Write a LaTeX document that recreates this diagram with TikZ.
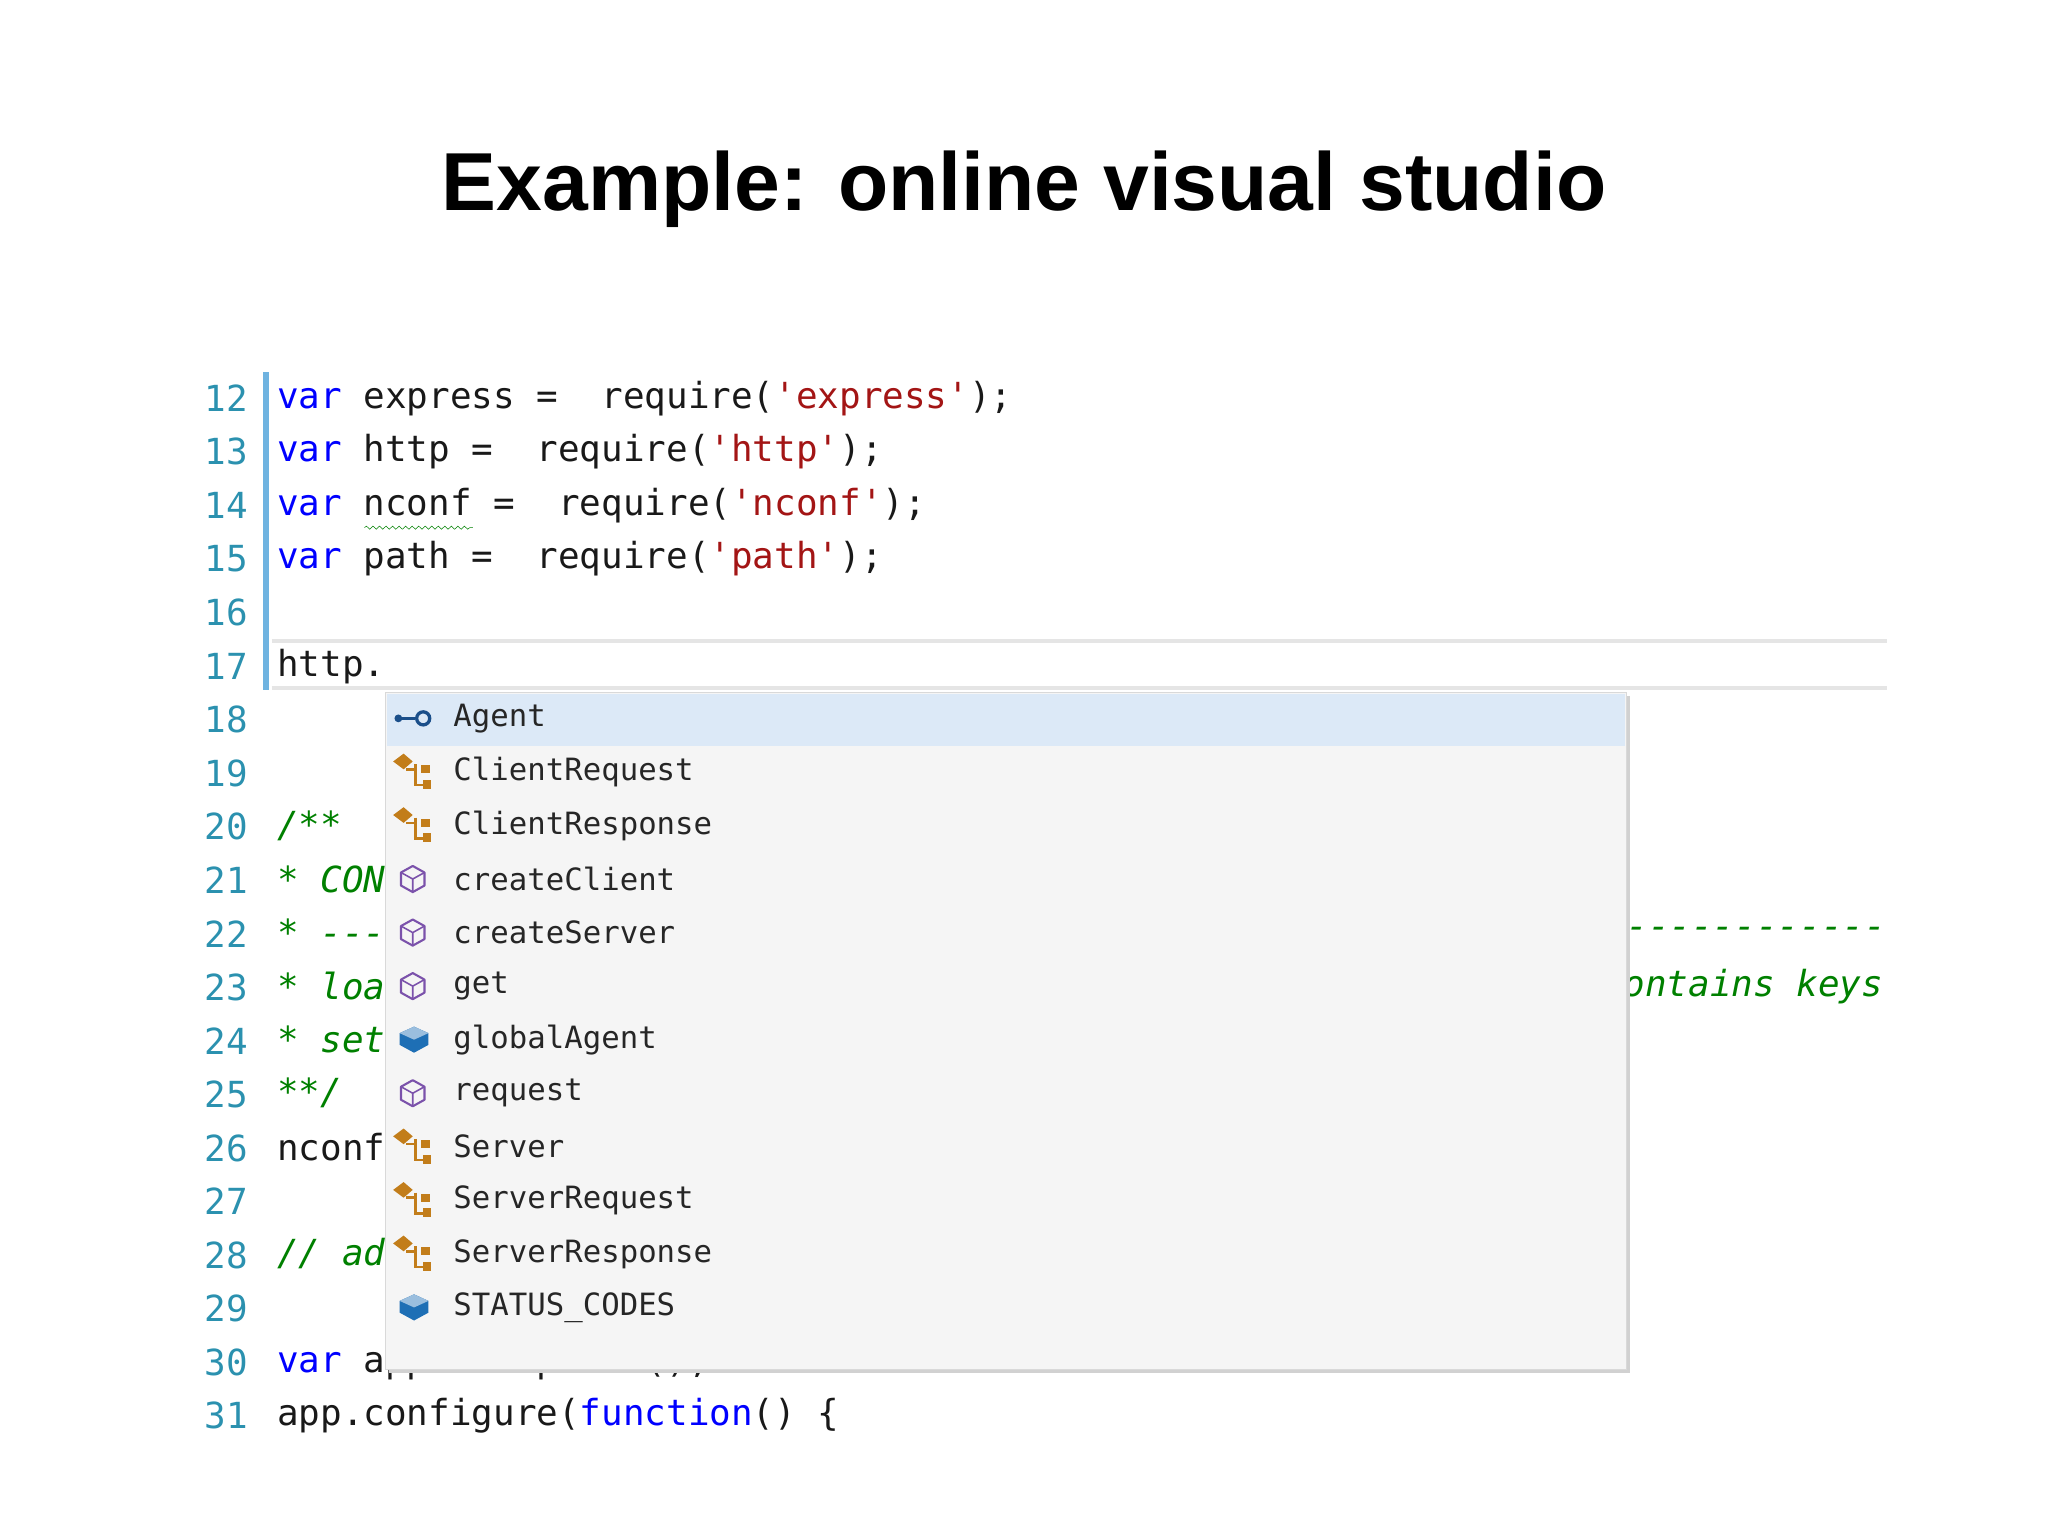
\documentclass[tikz,border=0pt]{standalone}
\usepackage{fontspec}
\setmainfont{Liberation Sans}
\newfontfamily\codefont{DejaVu Sans Mono}
\usetikzlibrary{decorations.pathmorphing}
\definecolor{kw}{HTML}{0000FF}
\definecolor{str}{HTML}{A31515}
\definecolor{cmt}{HTML}{008000}
\definecolor{lnum}{HTML}{2B91AF}
\definecolor{barblue}{HTML}{6FB3E0}
\definecolor{popbg}{HTML}{F5F5F5}
\definecolor{popsel}{HTML}{DCE9F7}
\definecolor{clsor}{HTML}{C27D1A}
\definecolor{methp}{HTML}{7B52AB}
\definecolor{propb}{HTML}{1E6FB5}
\definecolor{ifc}{HTML}{1B4F8A}
\tikzset{
 codeline/.style={anchor=west,inner sep=0pt,font=\codefont\fontsize{27.5}{30}\selectfont,text=black!90},
 numline/.style={anchor=east,inner sep=0pt,font=\codefont\fontsize{27.5}{30}\selectfont,text=lnum},
 popitem/.style={anchor=west,inner sep=0pt,font=\codefont\fontsize{23.5}{26}\selectfont,text=black!85},
}
\newcommand{\K}[1]{\textcolor{kw}{#1}}
\newcommand{\Sx}[1]{\textcolor{str}{#1}}
\newcommand{\Cm}[1]{\textcolor{cmt}{\itshape #1}}
\begin{document}
\begin{tikzpicture}[x=1pt,y=-1pt]
\useasboundingbox (0,0) rectangle (1568,1177);
\node[inner sep=0pt,font=\bfseries\fontsize{63}{70}\selectfont] (title) at (784,145) {Example: online visual studio};
% bar
\fill[barblue] (201,285) rectangle (206,528);
% current line highlight
\draw[black!10,line width=3pt] (208,491) -- (1445,491) (208,527) -- (1445,527);
% line numbers
\foreach \n in {12,...,31}{
  \node[numline] (n\n) at (190,{305+41*(\n-12)}) {\n};
}
\node[codeline] (c12) at (212,305) {\K{var} express =~~require(\Sx{'express'});};
\node[codeline] (c13) at (212,346) {\K{var} http =~~require(\Sx{'http'});};
\node[codeline] (c14) at (212,387) {\K{var} nconf =~~require(\Sx{'nconf'});};
\draw[cmt,decorate,decoration={snake,amplitude=1.2pt,segment length=5pt}] (279,404) -- (362,404);
\node[codeline] (c15) at (212,428) {\K{var} path =~~require(\Sx{'path'});};
\node[codeline] (c17) at (212,510) {http.};
\node[codeline] (c20) at (212,632) {\Cm{/**}};
\node[codeline] (c21) at (212,673) {\Cm{* CON}};
\node[codeline] (c22) at (212,714) {\Cm{* ---}};
\node[codeline] (c22r) at (1245,714) {\Cm{------------}};
\node[codeline] (c23) at (212,755) {\Cm{* loa}};
\node[codeline,anchor=east] (c23r) at (1442,755) {\Cm{ontains keys}};
\node[codeline] (c24) at (212,796) {\Cm{* set}};
\node[codeline] (c25) at (212,837) {\Cm{**/}};
\node[codeline] (c26) at (212,878) {nconf};
\node[codeline] (c28) at (212,960) {\Cm{// ad}};
\node[codeline] (c30) at (212,1043) {\K{var} app = express();};
\node[codeline] (c31) at (212,1084) {app.configure(\K{function}() \{};
% popup
\fill[black!18] (298,533) rectangle (1248,1051);
\fill[popbg] (295,530) rectangle (1245,1048);
\draw[black!15] (295,530) rectangle (1245,1048);
\fill[popsel] (296,531) rectangle (1244,571);
\foreach \i/\t/\k in {0/Agent/i,1/ClientRequest/c,2/ClientResponse/c,3/createClient/m,4/createServer/m,5/get/m,6/globalAgent/p,7/request/m,8/Server/c,9/ServerRequest/c,10/ServerResponse/c,11/STATUS\_CODES/p}{
  \node[popitem] (p\i) at (347,{550+41*\i}) {\t};
  \pgfmathsetmacro{\yy}{550+41*\i}
  \if\k i
    \fill[ifc] (305,\yy) circle (3);
    \draw[ifc,line width=2pt] (305,\yy) -- (318,\yy);
    \draw[ifc,line width=2.5pt] (324,\yy) circle (5);
  \fi
  \if\k c
    \fill[clsor] (301,\yy-8) -- (309,\yy-14) -- (316,\yy-8) -- (309,\yy-2) -- cycle;
    \draw[clsor,line width=2pt] (311,\yy-2) -- (318,\yy-2) (318,\yy-6) -- (318,\yy+10) -- (326,\yy+10);
    \fill[clsor] (322,\yy-5) rectangle (329,\yy+1);
    \fill[clsor] (324,\yy+6) rectangle (330,\yy+13);
  \fi
  \if\k m
    \draw[methp,line width=1.6pt,line join=round] (316,\yy-10) -- (325,\yy-5) -- (325,\yy+5) -- (316,\yy+10) -- (307,\yy+5) -- (307,\yy-5) -- cycle;
    \draw[methp,line width=1.2pt] (307,\yy-5) -- (316,\yy) -- (325,\yy-5) (316,\yy) -- (316,\yy+10);
  \fi
  \if\k p
    \fill[propb] (317,\yy-10) -- (328,\yy-5) -- (328,\yy+4) -- (317,\yy+10) -- (306,\yy+4) -- (306,\yy-5) -- cycle;
    \fill[propb!45] (306,\yy-5) -- (317,\yy-10) -- (328,\yy-5) -- (317,\yy) -- cycle;
  \fi
}
\end{tikzpicture}
\end{document}
